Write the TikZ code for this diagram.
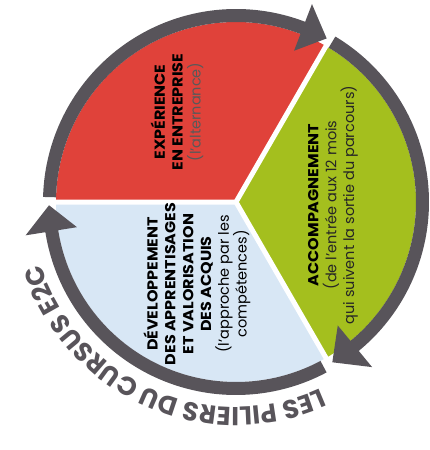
\documentclass[tikz,border=0pt]{standalone}
\usepackage{fontspec}
\setmainfont{Poppins}
\newfontfamily\widefam{Poppins}[FakeStretch=1.1]
\usetikzlibrary{decorations.text}
\definecolor{pred}{HTML}{E0423A}
\definecolor{pgreen}{HTML}{A4BF1E}
\definecolor{pblue}{HTML}{D8E7F5}
\definecolor{pgray}{HTML}{58545A}
\begin{document}
\begin{tikzpicture}[x=1pt,y=1pt,
  txt/.style={font=\widefam\bfseries\fontsize{14.5}{17.8}\selectfont, align=center, rotate=90, inner sep=0pt},
  band/.style={fill=pgray},
  gap/.style={white, line width=5pt}]
\useasboundingbox (-236,-248) rectangle (194,202);
% sectors
\fill[pred] (0,0) -- (60:180) arc[start angle=60, end angle=180, radius=180] -- cycle;
\fill[pblue] (0,0) -- (180:180) arc[start angle=180, end angle=300, radius=180] -- cycle;
\fill[pgreen] (0,0) -- (-60:180) arc[start angle=-60, end angle=60, radius=180] -- cycle;
\draw[gap] (0,0) -- (60:181) (0,0) -- (180:181) (0,0) -- (300:181);
% arrows
\fill[band] (178.5:180) arc[start angle=178.5, end angle=69, radius=180] -- (69:162) -- (61:187) -- (69:212) -- (69:193) arc[start angle=69, end angle=178.5, radius=193] -- cycle;
\fill[band] (59:180) arc[start angle=59, end angle=-50.5, radius=180] -- (-50.5:160) -- (-59:187) -- (-50.5:214) -- (-50.5:193) arc[start angle=-50.5, end angle=59, radius=193] -- cycle;
\fill[band] (-62:180) arc[start angle=-62, end angle=-171, radius=180] -- (-171:161) -- (-179:187) -- (-171:213) -- (-171:193) arc[start angle=-171, end angle=-62, radius=193] -- cycle;
% curved title
\path[decorate, decoration={text along path, text align=center, text color=pgray,
  text={|\fontsize{26}{26}\selectfont\bfseries|LES PILIERS DU CURSUS E2C}}]
  (-50:205) arc[start angle=-50, end angle=-178, radius=205];
% texts
\node[txt] (exp) at (-59,90) {EXPÉRIENCE\\EN ENTREPRISE\\{\normalfont\color{black!65}(l'alternance)}};
\node[txt] (acc) at (97,-3) {ACCOMPAGNEMENT\\{\normalfont\color{black!85}(de l'entrée aux 12 mois}\\{\normalfont\color{black!85}qui suivent la sortie du parcours)}};
\node[txt] (dev) at (-39,-82) {DÉVELOPPEMENT\\DES APPRENTISAGES\\ET VALORISATION\\DES ACQUIS\\{\normalfont (l'approche par les}\\{\normalfont compétences)}};
\end{tikzpicture}
\end{document}
